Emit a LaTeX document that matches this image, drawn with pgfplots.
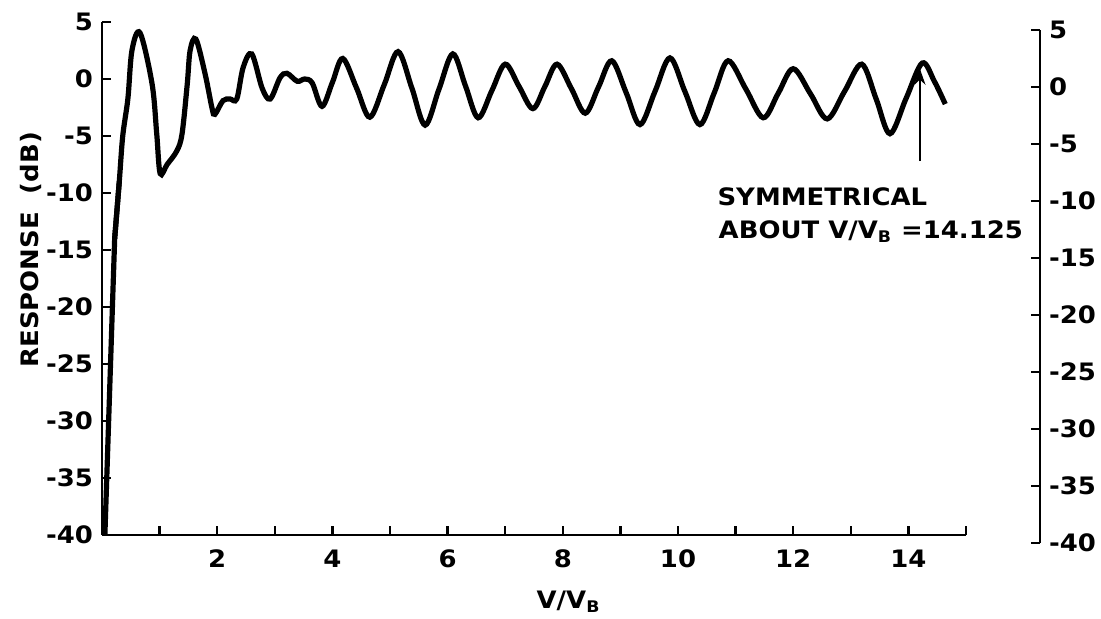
\documentclass[border=0pt]{standalone}
\usepackage{fontspec}
\setmainfont{DejaVu Sans}[FakeStretch=1.08]
\usepackage{pgfplots}
\pgfplotsset{compat=1.18}
\usetikzlibrary{arrows.meta}
\begin{document}
\begin{tikzpicture}[font=\bfseries\fontsize{12}{14}\selectfont]
\useasboundingbox (-51pt,-42pt) rectangle (499.5pt,267.5pt);
\begin{axis}[
  at={(0,0)}, anchor=south west,
  scale only axis, width=432pt, height=256.5pt,
  xmin=0, xmax=15, ymin=-40, ymax=5,
  axis x line=bottom, axis y line=left,
  axis line style={-, line width=1.4pt},
  tick style={line width=1.2pt, black},
  tick align=inside,
  major tick length=4.5pt, minor tick length=4.5pt,
  xtick={2,4,...,14}, minor xtick={1,3,...,15},
  xticklabels={2,4,6,8,10,12,14},
  ytick={-40,-35,...,5},
  yticklabels={-40,-35,-30,-25,-20,-15,-10,-5,0,5},
  xticklabel style={yshift=-4pt},
  yticklabel style={xshift=-1pt},
  clip=false,
]
\addplot[black, line width=2.6pt] coordinates {(0.05,-40) (0.22,-14) (0.30,-9.0)};
\addplot[black, line width=2.6pt, smooth, tension=0.55] coordinates {
(0.22,-14) (0.30,-9.0) (0.36,-5.0) (0.45,-1.7) (0.52,2.5) (0.66,4.05)
(0.87,-0.45) (0.95,-4.8) (1.01,-8.3) (1.13,-7.5) (1.30,-6.3) (1.39,-4.8)
(1.48,-0.45) (1.53,2.5) (1.63,3.5) (1.79,0.45) (1.91,-2.55) (1.96,-3.1)
(2.10,-1.9) (2.22,-1.75) (2.34,-1.75) (2.45,1.0) (2.60,2.2) (2.78,-0.8)
(2.92,-1.75) (3.09,0.1) (3.21,0.5) (3.39,-0.2) (3.52,0) (3.65,-0.35)
(3.82,-2.4) (4.00,-0.3) (4.18,1.8) (4.42,-0.8) (4.65,-3.35) (4.90,-0.5)
(5.14,2.4) (5.38,-0.8) (5.61,-4.05) (5.85,-0.9) (6.09,2.2) (6.31,-0.6)
(6.53,-3.4) (6.77,-1.0) (7.00,1.3) (7.24,-0.65) (7.48,-2.6) (7.69,-0.65)
(7.90,1.3) (8.15,-0.85) (8.39,-3.0) (8.62,-0.7) (8.85,1.6) (9.10,-1.2)
(9.34,-4.0) (9.60,-1.1) (9.86,1.85) (10.12,-1.1) (10.38,-4.0) (10.63,-1.2)
(10.87,1.6) (11.18,-0.9) (11.48,-3.4) (11.74,-1.25) (12.00,0.9) (12.30,-1.3)
(12.59,-3.5) (12.89,-1.1) (13.19,1.3) (13.44,-1.75) (13.68,-4.8) (13.96,-1.7)
(14.24,1.4) (14.45,-0.2) (14.64,-2.2)
};
\draw[line width=1.3pt, -{Stealth[length=8pt,width=5.5pt]}] (axis cs:14.2,-7.2) -- (axis cs:14.2,0.9);
\node[anchor=west, inner sep=0pt] at (axis cs:10.68,-10.3) {SYMMETRICAL};
\node[anchor=west, inner sep=0pt] at (axis cs:10.7,-13.4) {ABOUT V/V\textsubscript{B} =14.125};
\node[rotate=90] at (rel axis cs:-0.082,0.556) {RESPONSE\ \ (dB)};
\node at (rel axis cs:0.54,-0.13) {V/V\textsubscript{B}};
\end{axis}
\begin{axis}[
  at={(0,-4pt)}, anchor=south west,
  scale only axis, width=469pt, height=256.5pt,
  xmin=0, xmax=1, ymin=-40, ymax=5,
  axis x line=none, axis y line=right,
  axis line style={-, line width=1.4pt},
  tick style={line width=1.2pt, black},
  tick align=inside,
  major tick length=4.5pt,
  ytick={-40,-35,...,5},
  yticklabels={-40,-35,-30,-25,-20,-15,-10,-5,0,5},
  yticklabel style={anchor=west, xshift=1pt},
]
\addplot[draw=none] coordinates {(0,0)};
\end{axis}
\end{tikzpicture}
\end{document}
